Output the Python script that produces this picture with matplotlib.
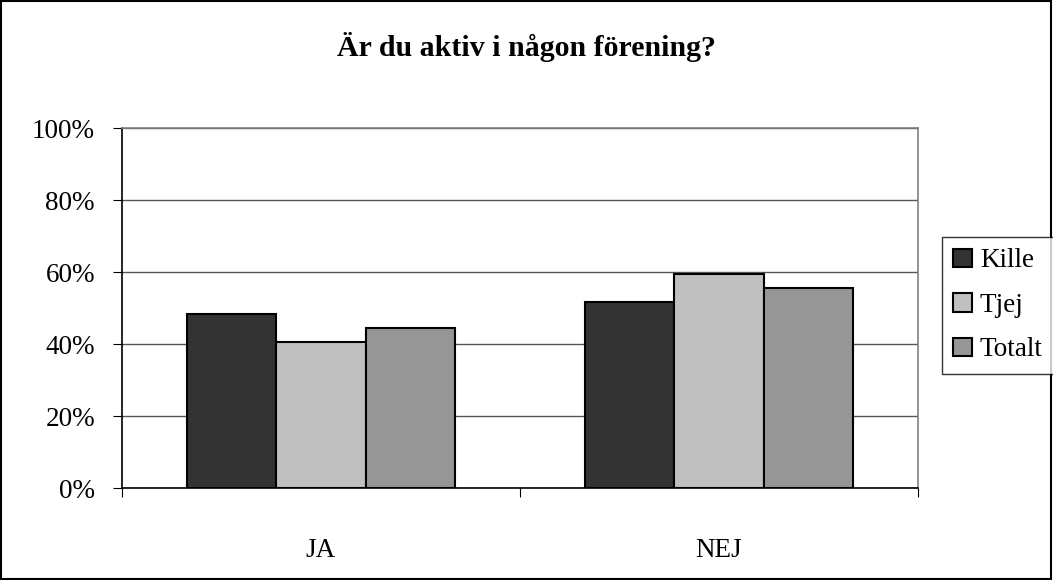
import matplotlib.pyplot as plt
import numpy as np
from matplotlib.patches import Rectangle

categories = ['JA', 'NEJ']
series = ['Kille', 'Tjej', 'Totalt']
values = {
    'Kille': [48.4, 51.6],
    'Tjej': [40.6, 59.4],
    'Totalt': [44.5, 55.5],
}
colors = ['#333333', '#c0c0c0', '#969696']

plt.rcParams['font.family'] = ['Liberation Serif', 'DejaVu Serif']

fig = plt.figure(figsize=(10.53, 5.8), dpi=100)
W, H = 1053, 580
ax = fig.add_axes([122 / W, 1 - 488 / H, (918 - 122) / W, (488 - 128) / H])

x = np.arange(len(categories))
w = 0.225
for i, (name, c) in enumerate(zip(series, colors)):
    ax.bar(x + (i - 1) * w, values[name], w, color=c, edgecolor='black',
           linewidth=1.5, label=name, zorder=3)

ax.set_ylim(0, 100)
ax.set_xlim(-0.5, 1.5)
ax.set_yticks(np.arange(0, 101, 20))
ax.set_yticklabels([f'{v}%' for v in range(0, 101, 20)], fontsize=19.5)
ax.yaxis.grid(True, color='#555555', linewidth=1, zorder=0)
ax.set_xticks([-0.5, 0.5, 1.5])
ax.set_xticklabels([])
ax.set_xticks(x, minor=True)
ax.set_xticklabels(categories, minor=True, fontsize=19.5)
ax.tick_params(axis='x', which='minor', length=0, pad=36)
ax.tick_params(axis='x', which='major', length=6.5, color='black', direction='out')
ax.tick_params(axis='y', length=6.5, color='black', direction='out', pad=13)

for s in ['top', 'right']:
    ax.spines[s].set_color('#808080')
for s in ['left', 'bottom']:
    ax.spines[s].set_color('black')
for s in ax.spines.values():
    s.set_linewidth(1.2)

fig.text(0.5, 1 - 47 / H, 'Är du aktiv i någon förening?', ha='center', va='center',
         fontsize=21.5, fontweight='bold')

leg = fig.legend(loc='upper left', bbox_to_anchor=(942 / W, 1 - 237 / H),
                 fontsize=19.5, frameon=True, fancybox=False, edgecolor='black',
                 handlelength=0.68, handleheight=0.68, handletextpad=0.3,
                 borderpad=0.42, labelspacing=0.72, borderaxespad=0)
leg.get_frame().set_linewidth(1)

fig.patches.append(Rectangle((0.001, 0.001), 0.997, 0.997, transform=fig.transFigure,
                             fill=False, edgecolor='black', linewidth=1.5))

fig.savefig('out.png', dpi=100)
